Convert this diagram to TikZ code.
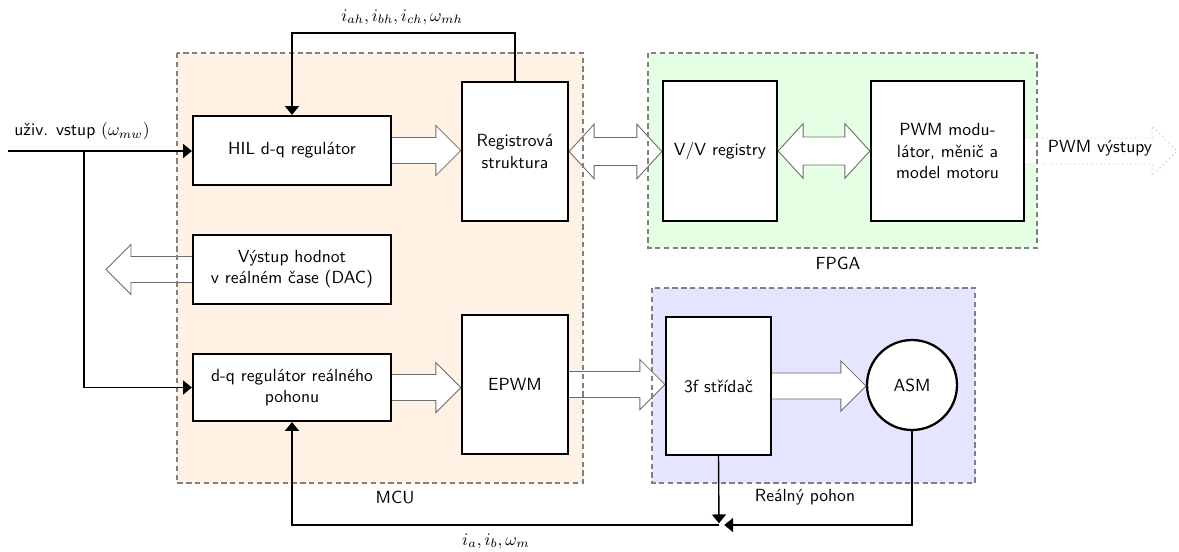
\documentclass[tikz,border=0pt]{standalone}
\usepackage{fontspec}
\usetikzlibrary{arrows.meta,calc}

% wide hollow arrow: tail at #2, tip at #3 (horizontal), tail edge left open
\newcommand\fatarrow[3][]{%
  \path[fat,#1] let \p1=(#2), \p2=(#3), \n1={ifthenelse(\x2>\x1,1,-1)} in
    (\x1,{\y1+7.4pt}) -- ({\x2-\n1*14.2pt},{\y1+7.4pt}) -- ({\x2-\n1*14.2pt},{\y1+14.2pt})
    -- (\x2,\y1) -- ({\x2-\n1*14.2pt},{\y1-14.2pt}) -- ({\x2-\n1*14.2pt},{\y1-7.4pt})
    -- (\x1,{\y1-7.4pt});}
% wide hollow double arrow between #2 and #3
\newcommand\fatdarrow[3][]{%
  \path[fat,#1] let \p1=(#2), \p2=(#3), \n1={ifthenelse(\x2>\x1,1,-1)} in
    (\x1,\y1) -- ({\x1+\n1*14.2pt},{\y1+15.5pt}) -- ({\x1+\n1*14.2pt},{\y1+8pt})
    -- ({\x2-\n1*14.2pt},{\y1+8pt}) -- ({\x2-\n1*14.2pt},{\y1+15.5pt}) -- (\x2,\y1)
    -- ({\x2-\n1*14.2pt},{\y1-15.5pt}) -- ({\x2-\n1*14.2pt},{\y1-8pt})
    -- ({\x1+\n1*14.2pt},{\y1-8pt}) -- ({\x1+\n1*14.2pt},{\y1-15.5pt}) -- cycle;}

\begin{document}
\begin{tikzpicture}[x=0.02cm,y=-0.02cm,
  font=\sffamily,
  block/.style={draw=black, line width=1.3pt, fill=white, align=center, inner sep=2pt},
  zone/.style={draw=gray, line width=0.6pt, dash pattern=on 3pt off 2pt},
  wire/.style={line width=0.8pt},
  tip/.style={-{Triangle[width=8pt,length=5pt]}},
  fat/.style={draw=gray!85!black, line width=0.5pt, fill=white},
]
\useasboundingbox (0,0) rectangle (1179,551);

% zone backgrounds
\fill[orange!10] (177,53) rectangle (583,483);
\fill[green!10] (648,53) rectangle (1037,248);
\fill[blue!10] (652,288) rectangle (975,483);

% blocks
\node[block, minimum width=39.6mm, minimum height=13.8mm] (hil) at (292,150.5) {HIL d-q regulátor};
\node[block, minimum width=21.2mm, minimum height=27.8mm] (reg) at (515,151.5) {Registrová\\struktura};
\node[block, minimum width=39.6mm, minimum height=13.8mm] (dac) at (292,269.5) {Výstup hodnot\\v reálném čase (DAC)};
\node[block, minimum width=39.6mm, minimum height=13.4mm] (dq) at (292,387.5) {d-q regulátor reálného\\pohonu};
\node[block, minimum width=21.2mm, minimum height=27.8mm] (epwm) at (515,384.5) {EPWM};
\node[block, minimum width=22.8mm, minimum height=28mm] (vv) at (720,151) {V/V registry};
\node[block, minimum width=30.6mm, minimum height=28mm] (pwm) at (947.5,151) {PWM modu-\\látor, měnič a\\model motoru};
\node[block, minimum width=21mm, minimum height=27.6mm] (inv) at (718.5,386) {3f střídač};
\node[block, circle, minimum size=18mm, inner sep=0pt] (asm) at (912,385) {ASM};

% wide data-flow arrows
\fatarrow{hil.east}{reg.west}
\fatdarrow{reg.east}{vv.west}
\fatdarrow{vv.east}{pwm.west}
\coordinate (pwmout) at (1177,150);
\fatarrow[draw=gray!60, dotted]{pwm.east}{pwmout}
\node (pwmlbl) at (1100,148) {PWM výstupy};
\coordinate (dacout) at (106,269.5);
\fatarrow{dac.west}{dacout}
\fatarrow{dq.east}{epwm.west}
\fatarrow{epwm.east}{inv.west}
\fatarrow{inv.east}{asm.west}

% zone borders and names
\draw[zone] (177,53) rectangle (583,483);
\draw[zone] (648,53) rectangle (1037,248);
\draw[zone] (652,288) rectangle (975,483);
\node (mcu) at (395,497) {MCU};
\node (fpga) at (838,263) {FPGA};
\node (real) at (805,497) {Reálný pohon};

% HIL feedback
\draw[wire,tip] (reg.north) -- ++(0,-48) -| (hil.north);
\node (fbh) at (402,17) {$i_{ah},i_{bh},i_{ch},\omega_{mh}$};

% user input
\coordinate (in) at (8,151);
\coordinate (br) at (84,151);
\draw[wire,tip] (in) -- (hil.west |- in);
\draw[wire,tip] (br) |- (dq.west);
\node (inlbl) at (82,131) {uživ. vstup $(\omega_{mw})$};

% real drive feedback
\coordinate (J) at (719,525);
\draw[wire,tip,shorten >=1pt] (inv.south) -- (J);
\draw[wire,tip,shorten >=3pt] (asm.south) |- (J);
\draw[wire,tip] (J) -| (dq.south);
\node (fb) at (496,541) {$i_a,i_b,\omega_m$};
\end{tikzpicture}
\end{document}
